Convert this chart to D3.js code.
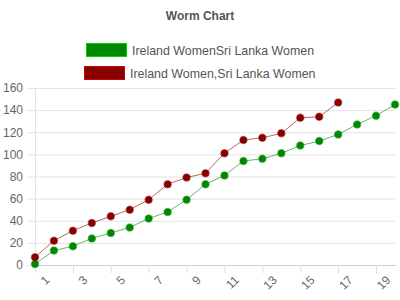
<!DOCTYPE html>
<html>
<head>
<meta charset="utf-8">
<script src="https://cdn.jsdelivr.net/npm/d3@7"></script>
<style>
    body { margin: 0; background: #fff; }
    svg { font-family: "Liberation Sans", Arial, sans-serif; }
</style>
</head>
<body>
<div id="chart"></div>
<script>
// data
const overs = d3.range(1, 21);
const irelandRuns = [1, 13, 17, 24, 29, 34, 42, 48, 59, 73, 81, 94, 96, 101, 108, 112, 118, 127, 135, 145];
const sriLankaRuns = [7, 22, 31, 38, 44, 50, 59, 73, 79, 83, 101, 113, 115, 119, 133, 134, 147];
const seriesNames = ["Ireland WomenSri Lanka Women", "Ireland Women,Sri Lanka Women"];
const seriesColors = ["#008800", "#880000"];
const yTicks = [0, 20, 40, 60, 80, 100, 120, 140, 160];
const xTicks = [1, 3, 5, 7, 9, 11, 13, 15, 17, 19];

const width = 400, height = 300;
const margin = {left: 35, right: 5, top: 88, bottom: 35};

const svg = d3.select("#chart")
    .append("svg")
    .attr("width", width)
    .attr("height", height);

const xScale = d3.scaleLinear().domain([1, 20]).range([margin.left, width - margin.right]);
const yScale = d3.scaleLinear().domain([0, 160]).range([height - margin.bottom, margin.top]);

// title
svg.append("text")
    .attr("x", 200).attr("y", 20)
    .attr("text-anchor", "middle")
    .attr("font-size", 12).attr("font-weight", "bold")
    .attr("fill", "#555")
    .text("Worm Chart");

// legend
const legendRows = [{x: 86, y: 43}, {x: 84, y: 66}];
seriesNames.forEach((name, i) => {
    const g = svg.append("g").attr("transform", "translate(" + legendRows[i].x + "," + legendRows[i].y + ")");
    g.append("rect")
        .attr("x", 0.5).attr("y", 0.5)
        .attr("width", 40).attr("height", 13)
        .attr("fill", seriesColors[i])
        .attr("stroke", d3.color(seriesColors[i]).brighter(1.2))
        .attr("stroke-width", 1);
    g.append("text")
        .attr("x", 46).attr("y", 11.5)
        .attr("font-size", 12.4)
        .attr("fill", "#555")
        .text(name);
});

// y axis with gridlines
const yAxis = d3.axisLeft(yScale)
    .tickValues(yTicks)
    .tickSize(-(width - margin.right - margin.left + 8))
    .tickPadding(4);

svg.append("g")
    .attr("class", "axis y")
    .attr("transform", "translate(" + (margin.left - 8) + ",0)")
    .call(yAxis)
    .call(g => g.select(".domain").remove())
    .call(g => g.selectAll(".tick line").attr("stroke", "#e3e3e3"))
    .call(g => g.selectAll(".tick text").attr("fill", "#666").attr("font-size", 12).attr("font-family", "Liberation Sans, Arial, sans-serif"));

// vertical axis line
svg.append("line")
    .attr("x1", margin.left + 0.5).attr("x2", margin.left + 0.5)
    .attr("y1", yScale(160)).attr("y2", yScale(0))
    .attr("stroke", "#e3e3e3");

// x axis
const xAxis = d3.axisBottom(xScale)
    .tickValues(xTicks)
    .tickSize(8)
    .tickSizeOuter(0);

svg.append("g")
    .attr("class", "axis x")
    .attr("transform", "translate(0," + yScale(0) + ")")
    .call(xAxis)
    .call(g => g.select(".domain").attr("stroke", "#ccc"))
    .call(g => g.selectAll(".tick line").attr("stroke", "#ddd"))
    .call(g => g.selectAll(".tick text")
        .attr("fill", "#666")
        .attr("font-size", 12)
        .attr("font-family", "Liberation Sans, Arial, sans-serif")
        .attr("text-anchor", "end")
        .attr("dy", "0.35em")
        .attr("transform", "translate(4,5) rotate(-45)"));

// worm lines
const allSeries = [irelandRuns, sriLankaRuns];
const line = d3.line()
    .x((d, i) => xScale(overs[i]))
    .y(d => yScale(d));

allSeries.forEach((runs, s) => {
    svg.append("path")
        .datum(runs)
        .attr("fill", "none")
        .attr("stroke", seriesColors[s])
        .attr("stroke-opacity", 0.6)
        .attr("stroke-width", 1)
        .attr("d", line);

    svg.append("g")
        .selectAll("circle")
        .data(runs)
        .join("circle")
        .attr("cx", (d, i) => xScale(overs[i]))
        .attr("cy", d => yScale(d))
        .attr("r", 3.5)
        .attr("fill", seriesColors[s])
        .attr("stroke", seriesColors[s])
        .attr("stroke-opacity", 0.5)
        .attr("stroke-width", 1.5);
});
</script>
</body>
</html>
